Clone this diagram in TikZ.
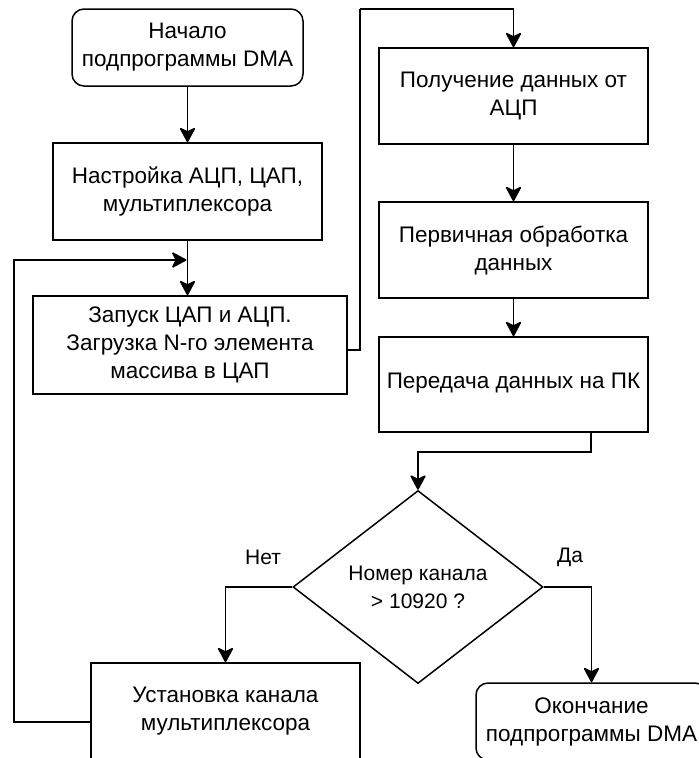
\documentclass[tikz,border=0pt]{standalone}
\usepackage{fontspec}
\setmainfont{Liberation Sans}
\usetikzlibrary{shapes.geometric,arrows.meta}
\begin{document}
\begin{tikzpicture}[x=1pt,y=1pt,
  every node/.style={font=\fontsize{22.5}{28}\selectfont, align=center, inner sep=0pt},
  blk/.style={draw, line width=1.5pt, minimum width=269pt, minimum height=97pt},
  term/.style={draw, line width=1.5pt, rounded corners=12pt, minimum width=231pt, minimum height=77pt},
  dec/.style={draw, line width=1.5pt, diamond, minimum width=250pt, minimum height=193pt, inner sep=0pt, font=\fontsize{21}{28}\selectfont},
  lbl/.style={font=\fontsize{21}{24}\selectfont},
  conn/.style={line width=1.5pt, -{Stealth[length=16pt,width=17pt,inset=4pt,round=false]}},
  line/.style={line width=1.5pt}]
\useasboundingbox (0,0) rectangle (699,-758);
\fill[white] (0,0) rectangle (699,-758);
\clip (0,0) rectangle (699,-758);

\node[term] (start) at (187.5,-47.5) {Начало\\подпрограммы DMA};
\node[blk] (setup) at (187.5,-191.5) {Настройка АЦП, ЦАП,\\мультиплексора};
\node[blk, minimum width=314pt, minimum height=98pt] (run) at (190,-345) {Запуск ЦАП и АЦП.\\Загрузка N-го элемента\\массива в ЦАП};
\node[blk, minimum height=96pt] (recv) at (513.5,-96) {Получение данных от\\АЦП};
\node[blk, minimum height=96pt] (proc) at (513.5,-250) {Первичная обработка\\данных};
\node[blk, minimum height=95pt] (send) at (513.5,-384.5) {};
\node (sendt) at (513.5,-383) {Передача данных на ПК};
\node[dec] (dec) at (418,-587) {Номер канала\\> 10920 ?};
\node[blk] (setch) at (225.5,-711.5) {Установка канала\\мультиплексора};
\node[term] (end) at (591.5,-721.5) {Окончание\\подпрограммы DMA};

\node[lbl] (no) at (263,-557) {Нет};
\node[lbl] (yes) at (570,-557) {Да};

\coordinate (l1) at (14,-722);
\coordinate (l2) at (187.5,-260);
\coordinate (r1) at (360,-350);
\coordinate (r2) at (360,-9);
\coordinate (s1) at (591,-432);
\coordinate (s2) at (591,-452);

\draw[conn] (start) -- (setup);
\draw[conn] (setup.south) -- (setup.south |- run.north);
\draw[conn] (setch.west |- l1) -- (l1) |- ([xshift=-1pt]l2);
\draw[line] (run.east |- r1) -- (r1) -- (r2);
\draw[conn] (r2) -| (recv.north);
\draw[conn] (recv) -- (proc);
\draw[conn] (proc) -- (send);
\draw[conn] (s1) -- (s2) -| (dec.north);
\draw[conn] (dec.west) -| (setch.north);
\draw[conn] (dec.east) -| (end.north);
\end{tikzpicture}
\end{document}
